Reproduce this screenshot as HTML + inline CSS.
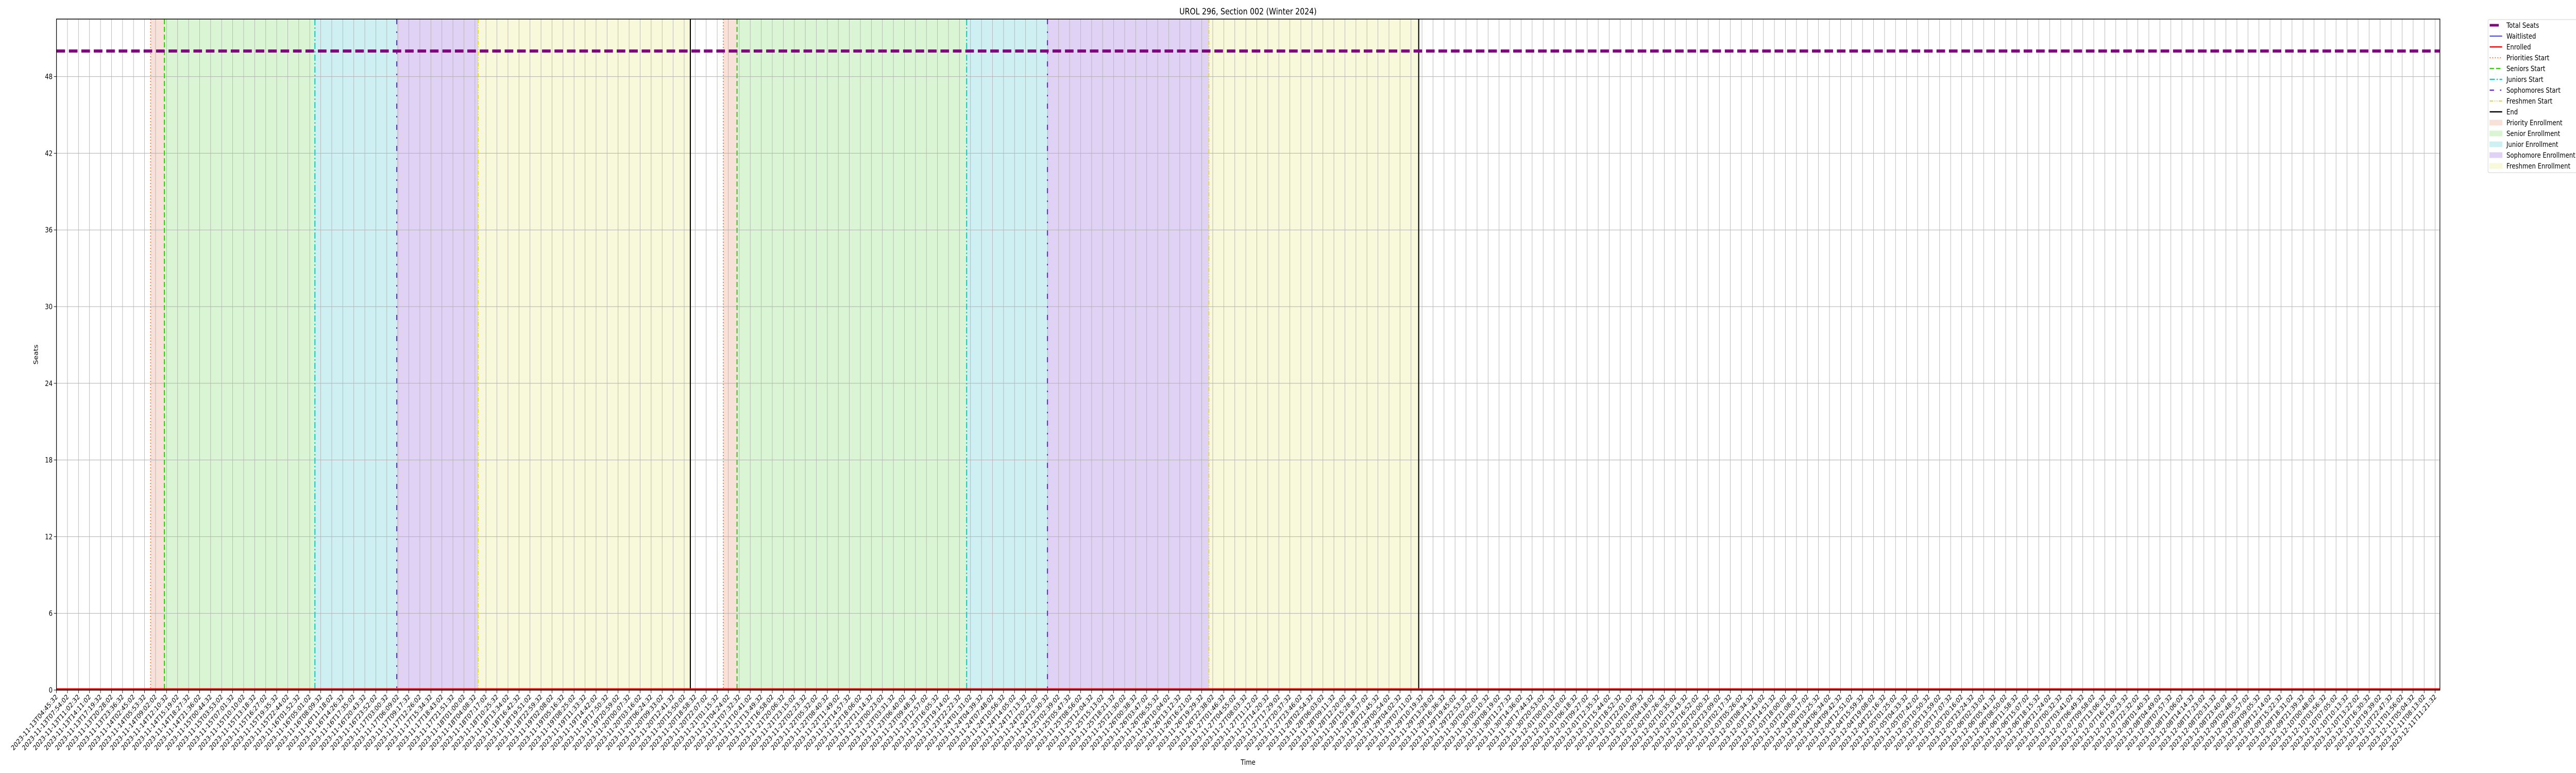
<!DOCTYPE html>
<html><head><meta charset="utf-8"><style>
html,body{margin:0;padding:0;background:#fff;overflow:hidden}
svg{display:block;width:100vw;height:100vh;font-family:"DejaVu Sans","Liberation Sans",sans-serif;overflow:hidden}
</style></head><body>
<svg id="chart" viewBox="0 0 6000 1500" preserveAspectRatio="none" xmlns="http://www.w3.org/2000/svg">
<rect x="0" y="0" width="6000" height="1500" fill="#fff"/>
<text x="2907" y="28" font-size="17" text-anchor="middle" fill="#000">UROL 296, Section 002 (Winter 2024)</text>
<g id="spans"></g>
<g id="grid"></g>
<g id="events"></g>
<g id="series"></g>
<rect x="131.5" y="37" width="5551.5" height="1302" fill="none" stroke="#000" stroke-width="1.5"/>
<g id="yaxis"></g>
<g id="xaxis"></g>
<text x="2907" y="1484" font-size="14" text-anchor="middle">Time</text>
<text transform="translate(88,688) rotate(-90)" font-size="14" text-anchor="middle">Seats</text>
<g id="legend"></g>
</svg>
<script>
// ---- data ----
const tickCount = 217;
const startTime = "2023-11-13T04:45:32";
const tickStepSeconds = 11310;
const yTicks = [0, 6, 12, 18, 24, 30, 36, 42, 48];
const totalSeats = [50];
const enrolled = [0];
const waitlisted = [0];
// event positions in tick-index units
const eventNames = ["Priorities Start","Seniors Start","Juniors Start","Sophomores Start","Freshmen Start","End"];
const cycle1Events = [8.55, 9.8, 23.47, 30.9, 38.3, 57.56];
const cycle2Events = [60.55, 61.8, 82.65, 89.99, 104.65, 123.7];

// ---- scales ----
const L = 131.5, R = 5683, T = 37, B = 1339;
const xMax = 216.43, yMax = 52.5;
const sx = i => L + (i / xMax) * (R - L);
const sy = v => B - (v / yMax) * (B - T);
const NS = "http://www.w3.org/2000/svg";
function mk(tag, parent) { const e = document.createElementNS(NS, tag); parent.appendChild(e); return e; }
function set(e, o) { for (const k in o) e.setAttribute(k, o[k]); return e; }

const spanColors = ["#f7e1d8","#daf5d3","#cff0f2","#e0d2f5","#f8f8da"];
const spanNames = ["priority-enrollment","senior-enrollment","junior-enrollment","sophomore-enrollment","freshmen-enrollment"];
const evStyles = [
  {c:"#ff6a2a", w:2, d:"2,4"},
  {c:"#33cc11", w:2.5, d:"10,5"},
  {c:"#11cccc", w:2.5, d:"12,4,3,4"},
  {c:"#6a2bd9", w:2.5, d:"10,14,3,14"},
  {c:"#dddd22", w:2, d:"8,3,2,3,2,3"},
  {c:"#000000", w:2.5, d:""}
];

const spans = document.getElementById('spans');
const events = document.getElementById('events');
[cycle1Events, cycle2Events].forEach((ev, ci) => {
  for (let k = 0; k < 5; k++) {
    const r = mk('rect', spans);
    
    
    set(r, {x: sx(ev[k]), y: T, width: sx(ev[k+1]) - sx(ev[k]), height: B - T, fill: spanColors[k]});
  }
  ev.forEach((p, k) => {
    const l = mk('line', events);
    
    
    set(l, {x1: sx(p), x2: sx(p), y1: T, y2: B, stroke: evStyles[k].c, 'stroke-width': evStyles[k].w});
    if (evStyles[k].d) l.setAttribute('stroke-dasharray', evStyles[k].d);
  });
});

// grid + x ticks
const grid = document.getElementById('grid');
const xaxis = document.getElementById('xaxis');
const t0 = new Date(startTime + "Z").getTime();
function fmt(ms) { return new Date(ms).toISOString().slice(0, 19); }
for (let i = 0; i < tickCount; i++) {
  const x = sx(i);
  const g = mk('line', grid);
  
  
  set(g, {x1: x, x2: x, y1: T, y2: B, stroke: "#b0b0b0", 'stroke-width': 1});
  const tk = mk('line', xaxis);
  
  
  set(tk, {x1: x, x2: x, y1: B, y2: B + 6, stroke: "#000", 'stroke-width': 1});
  const tx = mk('text', xaxis);
  
  
  set(tx, {transform: `translate(${x + 4},${B + 14}) rotate(-45)`, 'font-size': 13.5, 'text-anchor': 'end'});
  tx.textContent = fmt(t0 + i * tickStepSeconds * 1000);
}
const yaxis = document.getElementById('yaxis');
yTicks.forEach(v => {
  const y = sy(v);
  const g = mk('line', grid);
  
  
  set(g, {x1: L, x2: R, y1: y, y2: y, stroke: "#b0b0b0", 'stroke-width': 1});
  const tk = mk('line', yaxis);
  
  
  set(tk, {x1: L - 6, x2: L, y1: y, y2: y, stroke: "#000", 'stroke-width': 1});
  const tx = mk('text', yaxis);
  
  
  set(tx, {x: L - 9, y: y + 5, 'font-size': 14, 'text-anchor': 'end'});
  tx.textContent = v;
});

// series
const series = document.getElementById('series');
const ts = mk('line', series);


set(ts, {x1: L, x2: R, y1: sy(totalSeats[0]), y2: sy(totalSeats[0]), stroke: "#800080", 'stroke-width': 6, 'stroke-dasharray': "20,9"});
const wl = mk('line', series);


set(wl, {x1: L, x2: R, y1: sy(waitlisted[0]), y2: sy(waitlisted[0]), stroke: "#0000ff", 'stroke-width': 1.5});
const en = mk('line', series);


set(en, {x1: L, x2: R, y1: sy(enrolled[0]) - 2, y2: sy(enrolled[0]) - 2, stroke: "#ff0000", 'stroke-width': 3});

// legend
const legend = document.getElementById('legend');
const lb = mk('rect', legend);


set(lb, {x: 5795, y: 38, width: 215, height: 297, rx: 3, fill: "#fff", stroke: "#d0d0d0", 'stroke-width': 1});
const legendLabels = ["Total Seats","Waitlisted","Enrolled","Priorities Start","Seniors Start","Juniors Start","Sophomores Start","Freshmen Start","End","Priority Enrollment","Senior Enrollment","Junior Enrollment","Sophomore Enrollment","Freshmen Enrollment"];
legendLabels.forEach((lab, i) => {
  const y = 49 + i * 21;
  let h;
  if (i < 9) {
    h = mk('line', legend);
    set(h, {x1: 5799, x2: 5828, y1: y, y2: y});
    if (i === 0) set(h, {stroke: "#800080", 'stroke-width': 5, x2: 5820});
    else if (i === 1) set(h, {stroke: "#0000ff", 'stroke-width': 1.5});
    else if (i === 2) set(h, {stroke: "#ff0000", 'stroke-width': 2.5});
    else { const s = evStyles[i - 3]; set(h, {stroke: s.c, 'stroke-width': s.w}); if (s.d) h.setAttribute('stroke-dasharray', s.d); }
  } else {
    h = mk('rect', legend);
    set(h, {x: 5799, y: y - 5, width: 29, height: 10, fill: spanColors[i - 9], stroke: spanColors[i - 9]});
  }
  
  
  const t = mk('text', legend);
  
  
  set(t, {x: 5838, y: y + 5, 'font-size': 14});
  t.textContent = lab;
});
</script>
</body></html>
